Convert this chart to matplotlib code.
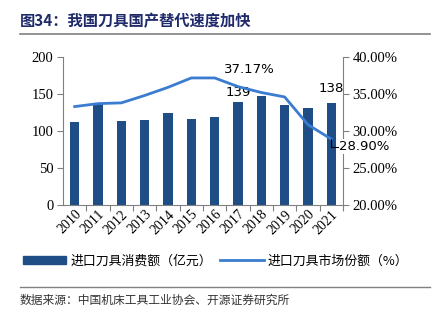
import matplotlib
matplotlib.use("Agg")
import matplotlib.pyplot as plt
from matplotlib.lines import Line2D
from matplotlib.patches import Patch

years = ["2010", "2011", "2012", "2013", "2014", "2015", "2016", "2017", "2018", "2019", "2020", "2021"]
consumption = [112, 137, 114, 115, 124, 116, 119, 139, 147, 135, 131, 138]
share = [33.3, 33.7, 33.8, 34.8, 35.9, 37.17, 37.17, 36.0, 35.2, 34.6, 30.85, 28.90]

title = "图34：我国刀具国产替代速度加快"
bar_label = "进口刀具消费额（亿元）"
line_label = "进口刀具市场份额（%）"
source = "数据来源：中国机床工具工业协会、开源证券研究所"

cjk = ["Noto Sans CJK SC", "DejaVu Sans"]
serif = ["Liberation Serif", "DejaVu Serif"]
bar_color = "#1F4E87"
line_color = "#3A7DD0"

fig = plt.figure(figsize=(4.35, 3.23), dpi=100)
W, H = 435, 323
ax = fig.add_axes([63 / W, 1 - 205 / H, (343 - 63) / W, (205 - 57) / H])
ax2 = ax.twinx()

x = list(range(len(years)))
ax.bar(x, consumption, width=0.4, color=bar_color, zorder=2)
ax2.plot(x, share, color=line_color, lw=2, zorder=3)

ax.set_xlim(-0.5, len(years) - 0.5)
ax.set_ylim(0, 200)
ax.set_yticks([0, 50, 100, 150, 200])
ax2.set_ylim(20, 40)
ax2.set_yticks([20, 25, 30, 35, 40])
ax2.set_yticklabels([f"{v:.2f}%" for v in [20, 25, 30, 35, 40]])

ax.set_xticks([i + 0.5 for i in x], minor=False)
ax.set_xticklabels([])
ax.set_xticks(x, minor=True)
ax.set_xticklabels(years, minor=True, rotation=45, ha="right", va="top",
                   rotation_mode="anchor", family=serif, fontsize=10)
ax.tick_params(axis="x", which="minor", length=0, pad=2)
ax.tick_params(axis="x", which="major", length=4, direction="out", color="#808080")

for a in (ax, ax2):
    for s in a.spines.values():
        s.set_visible(False)
ax.spines["left"].set_visible(True)
ax.spines["bottom"].set_visible(True)
ax2.spines["right"].set_visible(True)
for s in (ax.spines["left"], ax.spines["bottom"], ax2.spines["right"]):
    s.set_color("#808080")

ax.tick_params(axis="y", length=4, color="#808080", labelsize=10.5, pad=3)
ax2.tick_params(axis="y", length=4, color="#808080", labelsize=10.5, pad=3)
for lab in ax.get_yticklabels() + ax2.get_yticklabels():
    lab.set_family(serif)

# data labels
ax2.annotate(f"{share[6]:.2f}%", (6, share[6]), xytext=(6.4, 38.3), textcoords="data",
             fontsize=9.5, ha="left", va="center")
ax.annotate(f"{consumption[7]}", (7, consumption[7]), xytext=(0, 2), textcoords="offset points",
            fontsize=9.5, ha="center", va="bottom")
ax.annotate(f"{consumption[11]}", (11, consumption[11]), xytext=(0, 6), textcoords="offset points",
            fontsize=9.5, ha="center", va="bottom")
ax2.annotate(f"{share[11]:.2f}%", (11, share[11]), xytext=(11.35, 27.9), textcoords="data",
             fontsize=9.5, ha="left", va="center", zorder=5,
             arrowprops=dict(arrowstyle="-", color="black", lw=0.8,
                             connectionstyle="angle,angleA=0,angleB=90,rad=0",
                             shrinkA=0, shrinkB=0),
             bbox=dict(boxstyle="square,pad=0.05", fc="white", ec="none"))

# legend
handles = [Patch(color=bar_color), Line2D([0], [0], color=line_color, lw=2)]
fig.legend(handles, [bar_label, line_label], loc="center", bbox_to_anchor=(0.495, 1 - 261 / H),
           ncol=2, frameon=False, prop={"family": cjk, "size": 9.3}, handlelength=3.4,
           handleheight=0.5, columnspacing=0.6, handletextpad=0.3)

# title
fig.text(20 / W, 1 - 21 / H, title, fontsize=11, fontweight="bold", color="#1F2A6B",
         family=cjk, ha="left", va="center")
fig.add_artist(Line2D([20 / W, 430 / W], [1 - 34 / H, 1 - 34 / H], color="#808080", lw=1.2))
fig.add_artist(Line2D([20 / W, 430 / W], [1 - 287 / H, 1 - 287 / H], color="#808080", lw=1))
fig.text(20 / W, 1 - 300 / H, source, fontsize=8.5, family=cjk, ha="left", va="center", color="#333333")

fig.savefig("out.png", dpi=100)
